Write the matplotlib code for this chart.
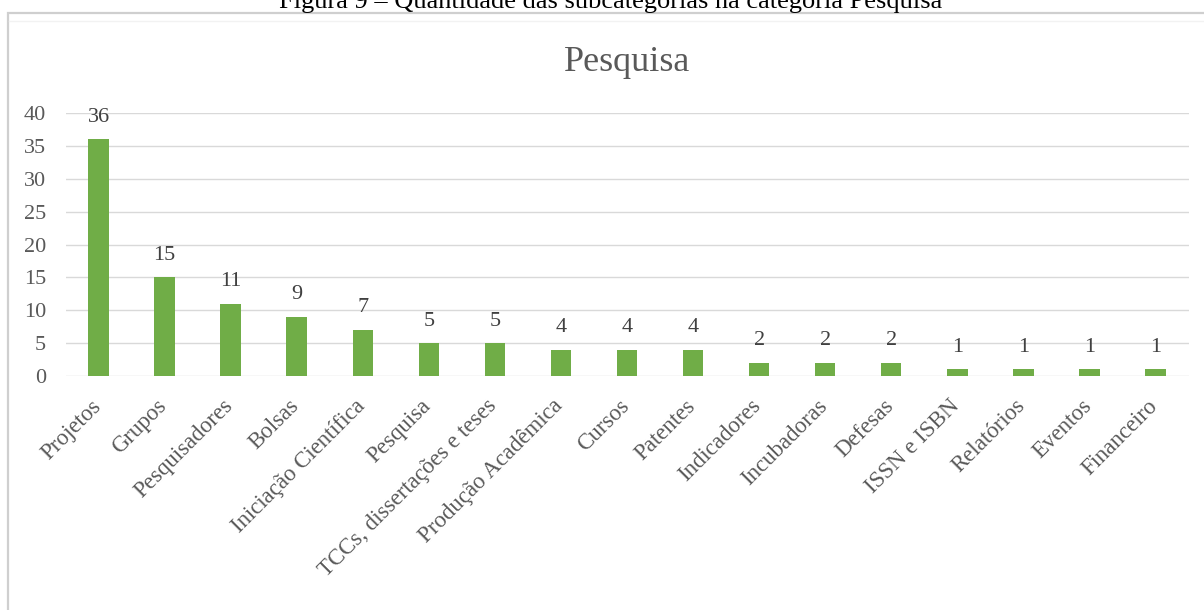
import matplotlib.pyplot as plt
import matplotlib.transforms as mtransforms
from matplotlib.patches import Rectangle

plt.rcParams['font.family'] = ['Liberation Serif', 'DejaVu Serif']

# subcategorias da categoria Pesquisa
categorias = ['Projetos', 'Grupos', 'Pesquisadores', 'Bolsas',
              'Iniciação Científica', 'Pesquisa', 'TCCs, dissertações e teses',
              'Produção Acadêmica', 'Cursos', 'Patentes', 'Indicadores',
              'Incubadoras', 'Defesas', 'ISSN e ISBN', 'Relatórios',
              'Eventos', 'Financeiro']
quantidades = [36, 15, 11, 9, 7, 5, 5, 4, 4, 4, 2, 2, 2, 1, 1, 1, 1]
yticks = [0, 5, 10, 15, 20, 25, 30, 35, 40]

W, H = 1204, 610
fig = plt.figure(figsize=(W / 100, H / 100), dpi=100, facecolor='white')

# legenda da figura, cortada no topo
fig.text(0.507, 1 - 8 / H, 'Figura 9 – Quantidade das subcategorias na categoria Pesquisa',
         ha='center', va='baseline', fontsize=19, color='black')

# moldura do grafico
fig.patches.append(Rectangle((8 / W, -0.1), 1.2, 1 - 13 / H + 0.1,
                             transform=fig.transFigure, fill=False,
                             edgecolor='#cfcfcf', linewidth=1.6, zorder=0))
fig.lines.append(plt.Line2D([9 / W, 1.0], [1 - 21 / H, 1 - 21 / H],
                            transform=fig.transFigure, color='#f2f2f2', linewidth=1))

left, right = 65.5 / W, 1188.5 / W
bottom, top = (H - 376) / H, (H - 113) / H
ax = fig.add_axes([left, bottom, right - left, top - bottom])

x = range(len(categorias))
barras = ax.bar(x, quantidades, width=0.31, color='#70ad47', zorder=3)

ax.set_xlim(-0.5, len(categorias) - 0.5)
ax.set_ylim(0, 40)
ax.set_yticks(yticks)
ax.yaxis.grid(True, color='#d9d9d9', linewidth=1, zorder=0)
for s in ax.spines.values():
    s.set_visible(False)
ax.tick_params(axis='both', length=0)
ax.tick_params(axis='y', pad=14, labelsize=16, labelcolor='#595959')

ax.set_xticks(list(x))
ax.set_xticklabels(categorias, rotation=45, ha='right', va='top',
                   rotation_mode='anchor', fontsize=16.5, color='#595959')
ax.tick_params(axis='x', pad=14)
# desloca os rotulos um pouco para a esquerda
desloc = mtransforms.ScaledTranslation(-6 / 72, 0, fig.dpi_scale_trans)
for lbl in ax.get_xticklabels():
    lbl.set_transform(lbl.get_transform() + desloc)

for b, v in zip(barras, quantidades):
    ax.annotate(str(v), (b.get_x() + b.get_width() / 2, v), xytext=(0, 9),
                textcoords='offset points', ha='center', va='bottom',
                fontsize=16, color='#404040')

ax.set_title('Pesquisa', fontsize=26, color='#595959', pad=30)

fig.savefig('out.png', dpi=100, facecolor='white')
